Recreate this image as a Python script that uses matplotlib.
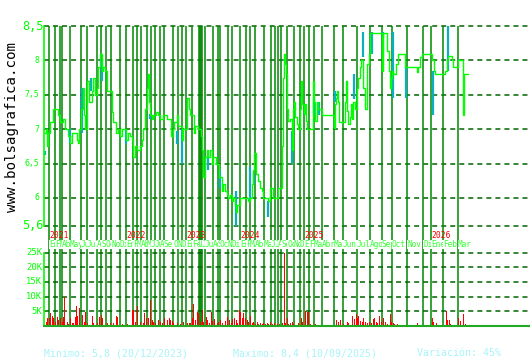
import matplotlib
matplotlib.use('Agg')
import matplotlib.pyplot as plt
from matplotlib.transforms import blended_transform_factory as btf

plt.rcParams['lines.scale_dashes'] = False
MONO = ['DejaVu Sans Mono']

# ---------------- data (x = trading-session index) ----------------
price_s = [1, 2, 3, 4, 6, 9, 13, 14, 16, 19, 21, 24, 26, 28, 31, 33, 34, 35, 37, 39,
           40, 41, 43, 45, 48, 49, 51, 53, 54, 56, 58, 59, 61, 63, 65, 68, 69, 72, 74, 76,
           78, 80, 82, 84, 86, 88, 89, 91, 93, 96, 98, 99, 101, 103, 104, 105, 106, 108, 109, 112,
           114, 116, 119, 123, 125, 127, 129, 130, 133, 134, 138, 139, 143, 145, 146, 149, 150, 151, 154, 156,
           157, 158, 159, 161, 163, 164, 166, 168, 169, 172, 175, 178, 179, 181, 183, 184, 186, 188, 189, 191,
           192, 193, 196, 204, 206, 208, 209, 210, 212, 214, 216, 218, 219, 224, 226, 229, 232, 234, 237, 238,
           239, 240, 241, 242, 243, 244, 246, 248, 249, 250, 251, 253, 254, 256, 257, 258, 260, 261, 262, 263,
           269, 270, 271, 273, 274, 278, 290, 291, 292, 293, 294, 295, 301, 302, 303, 304, 306, 307, 308, 309,
           311, 313, 314, 316, 317, 319, 321, 323, 325, 326, 332, 338, 339, 343, 345, 346, 347, 348, 349, 352,
           354, 361, 373, 374, 376, 378, 388, 390, 391, 401, 403, 404, 408, 409, 414, 419, 420, 424]
price_v = [6.95, 7.0, 6.75, 6.95, 7.1, 7.3, 7.3, 7.2, 7.1, 7.15, 7.0, 6.9, 6.8, 6.95, 6.95, 6.85, 6.8, 7.0, 7.3, 7.6,
           7.2, 7.0, 7.7, 7.4, 7.55, 7.75, 7.5, 7.6, 7.9, 8.1, 7.85, 7.9, 7.85, 7.55, 7.55, 7.25, 7.1, 6.95, 7.0, 6.9,
           7.0, 7.0, 6.85, 6.95, 6.9, 6.85, 6.6, 6.75, 6.7, 6.75, 6.85, 7.0, 7.3, 7.6, 7.8, 7.4, 7.2, 7.15, 7.2, 7.25,
           7.2, 7.15, 7.2, 7.15, 7.15, 6.9, 7.0, 7.1, 7.2, 7.05, 6.85, 7.0, 7.45, 7.3, 7.2, 7.2, 6.95, 7.05, 7.0, 7.0,
           6.9, 6.7, 6.3, 6.6, 6.7, 6.6, 6.7, 6.5, 6.6, 6.5, 6.3, 6.1, 6.2, 6.1, 6.05, 6.0, 6.05, 5.95, 6.0, 5.9,
           5.8, 5.9, 6.0, 5.95, 6.0, 6.2, 6.4, 6.65, 6.35, 6.25, 6.15, 6.1, 6.0, 5.95, 6.15, 6.0, 6.0, 6.15, 6.15, 6.75,
           7.75, 8.1, 7.95, 7.8, 7.3, 7.12, 7.15, 6.7, 7.3, 7.4, 7.17, 7.07, 7.0, 7.3, 7.7, 7.36, 7.22, 7.36, 7.12, 7.0,
           7.7, 7.4, 7.12, 7.4, 7.3, 7.2, 7.02, 7.36, 7.45, 7.55, 7.4, 7.1, 7.4, 7.7, 7.27, 7.07, 7.17, 7.36, 7.15, 7.4,
           7.3, 7.6, 7.75, 7.9, 8.0, 7.6, 7.3, 7.95, 8.1, 8.4, 8.4, 7.85, 8.4, 8.14, 7.85, 7.6, 7.75, 7.85, 7.8, 7.95,
           8.1, 7.9, 7.83, 7.9, 8.05, 8.1, 8.0, 7.85, 7.8, 7.85, 8.0, 8.06, 8.0, 7.9, 8.0, 7.2, 7.8, 7.8]

wick_s = [1, 26, 38, 47, 58, 82, 106, 133, 138, 164, 176, 192, 206, 210, 224, 248, 270, 275,
          291, 310, 319, 328, 339, 349, 362, 389, 404]
wick_lo = [6.62, 6.8, 6.95, 7.55, 7.7, 6.78, 7.15, 6.78, 6.5, 6.4, 6.15, 5.6, 5.97, 6.2, 5.73, 6.5, 7.2, 7.2,
           7.4, 7.44, 8.05, 8.1, 8.1, 7.46, 7.46, 7.2, 7.85]
wick_hi = [6.68, 7.0, 7.6, 7.75, 8.0, 7.0, 7.22, 6.97, 7.0, 6.7, 6.4, 6.1, 6.45, 6.35, 5.95, 6.98, 7.45, 7.4,
           7.55, 7.8, 8.41, 8.41, 8.41, 8.41, 7.9, 7.85, 8.5]

vol_s = [2, 3, 5, 6, 8, 9, 11, 13, 14, 16, 18, 19, 20, 23, 24, 26, 28, 29, 31, 32,
         33, 35, 38, 40, 41, 43, 48, 49, 53, 55, 57, 58, 63, 66, 69, 72, 73, 78, 83, 88,
         89, 91, 93, 96, 99, 100, 102, 104, 106, 108, 109, 111, 114, 116, 118, 120, 123, 125, 126, 128,
         129, 133, 136, 139, 143, 145, 146, 148, 149, 151, 153, 154, 156, 158, 159, 162, 163, 165, 167, 168,
         170, 173, 174, 176, 178, 181, 183, 185, 187, 188, 190, 192, 193, 195, 196, 198, 199, 201, 203, 204,
         206, 208, 209, 211, 213, 214, 216, 218, 219, 221, 223, 224, 226, 228, 230, 233, 235, 238, 240, 241,
         243, 244, 246, 248, 249, 252, 254, 257, 258, 261, 263, 264, 266, 268, 271, 274, 280, 286, 289, 292,
         294, 296, 299, 303, 304, 308, 310, 312, 313, 314, 316, 318, 319, 321, 323, 325, 327, 329, 330, 332,
         333, 335, 337, 339, 341, 343, 346, 347, 349, 350, 353, 357, 361, 365, 373, 375, 388, 389, 392, 399,
         402, 403, 405, 406, 414, 416, 419, 421]
vol_v = [1500, 2800, 2800, 4300, 3500, 2600, 1500, 3200, 2000, 2600, 1200, 3200, 10000, 1200, 600, 2600, 900, 900, 3200, 6900,
         3500, 6000, 3700, 1500, 4900, 900, 3500, 900, 900, 3200, 3700, 2600, 900, 900, 900, 3500, 3200, 600, 600, 5400,
         5400, 1500, 6900, 1500, 900, 4300, 2600, 2600, 8800, 2000, 1500, 900, 2000, 1500, 900, 2600, 2000, 2600, 2000, 1700,
         900, 900, 600, 1200, 900, 900, 900, 2800, 7400, 2000, 4900, 4300, 1200, 5400, 1500, 3200, 2000, 900, 4900, 1700,
         2400, 900, 1200, 2000, 900, 1700, 3200, 2000, 900, 2400, 2600, 2000, 900, 5400, 4900, 2600, 4300, 2600, 2000, 1200,
         3500, 900, 1500, 600, 1200, 600, 900, 600, 900, 600, 900, 600, 1200, 600, 900, 600, 600, 900, 25000, 900,
         2600, 600, 900, 1200, 600, 300, 900, 2600, 1500, 5100, 4900, 4900, 600, 300, 600, 300, 200, 400, 400, 2000,
         1500, 2000, 600, 1200, 900, 3500, 2400, 4000, 2600, 3500, 1700, 1200, 2800, 1200, 900, 1500, 900, 2400, 2800, 1200,
         900, 3500, 1200, 2600, 1200, 600, 4000, 1200, 900, 600, 600, 300, 300, 300, 900, 300, 2800, 1200, 900, 300,
         5200, 2000, 2000, 600, 2600, 1700, 4000, 600]

month_s = [5, 11, 16, 18, 26, 37, 43, 53, 57, 62, 67, 76,
           82, 89, 93, 97, 103, 107, 111, 116, 120, 129, 134, 138,
           142, 148, 155, 156, 157, 158, 161, 169, 174, 176, 184, 188,
           196, 202, 206, 211, 220, 227, 231, 234, 237, 243, 250, 256,
           260, 265, 270, 278, 290, 299, 313, 326, 338, 348, 363, 379,
           387, 399, 414]
month_names = ['Ene', 'Feb', 'Mar', 'Abr', 'May', 'Jun', 'Jul', 'Ago', 'Sep', 'Oct', 'Nov', 'Dic']
years = ['2021', '2022', '2023', '2024', '2025', '2026']

price_ticks = [8.5, 8.0, 7.5, 7.0, 6.5, 6.0, 5.6]
price_labels = ['8,5', '8', '7,5', '7', '6,5', '6', '5,6']
vol_ticks = [25000, 20000, 15000, 10000, 5000]
vol_labels = ['25K', '20K', '15K', '10K', '5K']

footer = ['Minimo: 5,8 (20/12/2023)', 'Maximo: 8,4 (10/09/2025)', 'Variación: 45%']

# ---------------- layout ----------------
W, H = 530, 360
fig = plt.figure(figsize=(5.3, 3.6), dpi=100)
fig.patch.set_facecolor('white')


def fx(px):
    return px / W


def fy(py):
    return 1 - py / H


X0 = 44
ax = fig.add_axes([fx(X0), fy(225.5), fx(W - X0), (225.5 - 26) / H])
axv = fig.add_axes([fx(X0), fy(326), fx(W - X0), (326 - 252.5) / H])
for a in (ax, axv):
    a.set_xlim(0, W - X0)
    a.set_facecolor('none')
    for k in ('top', 'right', 'bottom'):
        a.spines[k].set_visible(False)
    a.spines['left'].set_color('#00ff00')
    a.spines['left'].set_linewidth(1.2)
    a.set_xticks([])
    a.set_yticks([])
ax.set_ylim(5.6, 8.5)
axv.set_ylim(0, 25000)

dash = (0, (3.6, 2.9))
GRID = '#006400'
ax.hlines(price_ticks, 0, W - X0, colors=GRID, linestyles=dash, linewidth=1.1, clip_on=False, zorder=1)
axv.hlines(vol_ticks, 0, W - X0, colors=GRID, linestyles=dash, linewidth=1.1, clip_on=False, zorder=1)

# month separators spanning both panels
ax.vlines(month_s, fy(326), fy(26), transform=btf(ax.transData, fig.transFigure),
          colors='#008800', linewidth=1.1, clip_on=False, zorder=1.5)

# price
ax.vlines(wick_s, wick_lo, wick_hi, colors='#08b0c0', linewidth=1.6, zorder=2)
ax.plot(price_s, price_v, drawstyle='steps-post', color='#00ff00', linewidth=1.0, zorder=3)

# volume
axv.bar(vol_s, vol_v, width=1.0, color='#ff0000', linewidth=0, zorder=2)
axv.axhline(0, color='#22aa22', linewidth=1.5, clip_on=False, zorder=4)

# y labels
tp = btf(fig.transFigure, ax.transData)
for v, lab in zip(price_ticks, price_labels):
    big = lab in ('8,5', '5,6')
    ax.text(fx(43.5 if big else 39.5), v, lab, transform=tp, ha='right', va='center',
            color='#00ff00', fontsize=8.6 if big else 5.9, family=MONO)
tv = btf(fig.transFigure, axv.transData)
for v, lab in zip(vol_ticks, vol_labels):
    axv.text(fx(42.5), v, lab, transform=tv, ha='right', va='center',
             color='#00ff00', fontsize=6.4, family=MONO)

# month / year labels
tm = btf(ax.transData, fig.transFigure)
for i, s in enumerate(month_s):
    ax.text(s, fy(244.5), month_names[i % 12], transform=tm, ha='left', va='center',
            color='#33ff33', fontsize=5.6, family=MONO, clip_on=False, zorder=5,
            bbox=dict(facecolor='white', edgecolor='none', pad=0.3))
    if i % 12 == 0:
        ax.text(s, fy(236), years[i // 12], transform=tm, ha='left', va='center',
                color='#ff0000', fontsize=5.8, family=MONO, clip_on=False, zorder=5)

# watermark
fig.text(fx(12), fy(126.5), 'www.bolsagrafica.com', rotation=90, ha='center', va='center',
         color='black', fontsize=10.2, family=MONO)

# footer
for xpx, t in zip([44, 233, 417], footer):
    fig.text(fx(xpx), fy(353), t, ha='left', va='center', color='#a8f4f8',
             fontsize=7.1, family=MONO)

fig.savefig('out.png', dpi=100, facecolor='white')
